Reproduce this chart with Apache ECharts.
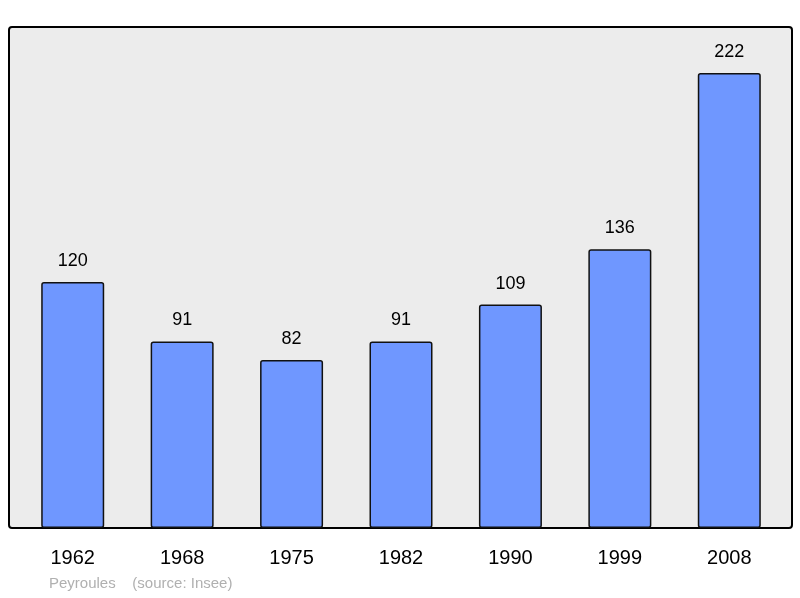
<!DOCTYPE html>
<html>
<head>
<meta charset="utf-8">
<script src="https://cdn.jsdelivr.net/npm/echarts@6/dist/echarts.min.js"></script>
<style>html,body{margin:0;padding:0;background:#fff}#chart{width:800px;height:598px}</style>
</head>
<body>
<div id="chart"></div>
<script>
var years = ['1962', '1968', '1975', '1982', '1990', '1999', '2008'];
var population = [120, 91, 82, 91, 109, 136, 222];

var chart = echarts.init(document.getElementById('chart'));
chart.setOption({
    animation: false,
    graphic: [
        {
            type: 'rect',
            z: -10,
            shape: { x: 9, y: 27, width: 783, height: 501, r: 3 },
            style: { fill: '#ececec', stroke: '#000', lineWidth: 2 }
        },
        {
            type: 'text',
            left: 49, top: 576,
            style: { text: 'Peyroules    (source: Insee)', fill: '#b0b0b0', font: '15px "Liberation Sans", Arial, sans-serif' }
        }
    ],
    grid: { left: 18, width: 766, top: 27, bottom: 70 },
    xAxis: {
        type: 'category',
        data: years,
        axisLine: { show: false },
        axisTick: { show: false },
        axisLabel: { color: '#000', fontSize: 20, margin: 20, fontFamily: 'Liberation Sans' }
    },
    yAxis: {
        type: 'value', min: 0, max: 244.4,
        show: false,
        splitLine: { show: false }
    },
    series: [{
        type: 'bar',
        data: population,
        barWidth: 63,
        itemStyle: { color: '#6f97ff', borderColor: '#111', borderWidth: 1.5, borderRadius: 2 },
        label: { show: true, position: 'top', distance: 12, color: '#000', fontSize: 18, fontFamily: 'Liberation Sans' }
    }]
});
</script>
</body>
</html>
